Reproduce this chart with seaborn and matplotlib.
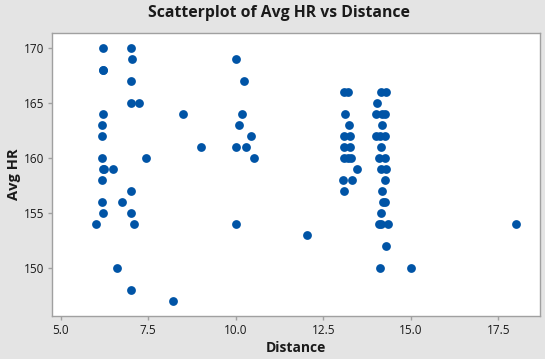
import pandas as pd
import seaborn as sns
from matplotlib import pyplot as plt

distance = [
    6.2, 7.0, 7.05, 6.2, 6.2, 7.0, 7.0, 7.25, 6.2, 6.19, 6.19, 6.19, 7.45,
    6.2, 6.25, 6.5, 6.19, 7.0, 6.19, 6.76, 6.22, 7.0, 6.02, 7.1, 6.62, 7.0, 8.22,
    10.0, 10.25, 8.5, 10.19, 10.1, 10.45, 9.02, 10.0, 10.3, 10.53, 10.02,
    12.05, 18.0,
    13.1, 13.2, 13.11, 13.23, 13.1, 13.27, 13.1, 13.25, 13.1, 13.2, 13.3,
    13.46, 13.07, 13.33, 13.1,
    14.15, 14.3, 14.03, 14.0, 14.18, 14.27, 14.18, 14.0, 14.13, 14.25, 14.15,
    14.1, 14.25, 14.15, 14.3, 14.27, 14.18, 14.2, 14.27, 14.15, 14.1, 14.15,
    14.35, 14.3, 14.13, 15.0,
]
avg_hr = [
    170, 170, 169, 168, 168, 167, 165, 165, 164, 163, 162, 160, 160,
    159, 159, 159, 158, 157, 156, 156, 155, 155, 154, 154, 150, 148, 147,
    169, 167, 164, 164, 163, 162, 161, 161, 161, 160, 154,
    153, 154,
    166, 166, 164, 163, 162, 162, 161, 161, 160, 160, 160,
    159, 158, 158, 157,
    166, 166, 165, 164, 164, 164, 163, 162, 162, 162, 161,
    160, 160, 159, 159, 158, 157, 156, 156, 155, 154, 154,
    154, 152, 150, 150,
]

df = pd.DataFrame({"Distance": distance, "Avg HR": avg_hr})

sns.set_style("white")
plt.rcParams["font.family"] = ["Open Sans", "DejaVu Sans"]

bg = "#E4E4E4"
fig = plt.figure(figsize=(5.45, 3.59), dpi=100, facecolor=bg)
ax = fig.add_axes([0.0963, 0.1206, 0.8947, 0.7866])
ax.set_facecolor("white")

sns.scatterplot(data=df, x="Distance", y="Avg HR", ax=ax, color="#0054A6",
                s=40, linewidth=0, legend=False)

ax.set_xlim(4.77, 18.69)
ax.set_ylim(145.7, 171.36)
ax.set_xticks([5.0, 7.5, 10.0, 12.5, 15.0, 17.5])
ax.set_xticklabels(["5.0", "7.5", "10.0", "12.5", "15.0", "17.5"])
ax.set_yticks([150, 155, 160, 165, 170])

for sp in ax.spines.values():
    sp.set_color("#A0A0A0")
    sp.set_linewidth(1)
ax.tick_params(axis="both", length=3, width=1, color="#A0A0A0",
               labelsize=8.5, labelcolor="#1A1A1A", pad=3)
ax.tick_params(axis="x", bottom=True)
ax.tick_params(axis="y", left=True)

ax.set_xlabel("Distance", fontsize=10, fontweight="bold", color="#1A1A1A", labelpad=3)
ax.set_ylabel("Avg HR", fontsize=10.5, fontweight="bold", color="#1A1A1A", labelpad=2)
fig.suptitle("Scatterplot of Avg HR vs Distance", x=0.512, y=0.985,
             fontsize=11.3, fontweight="bold", color="#1A1A1A")

fig.savefig("out.png", dpi=100, facecolor=bg)
